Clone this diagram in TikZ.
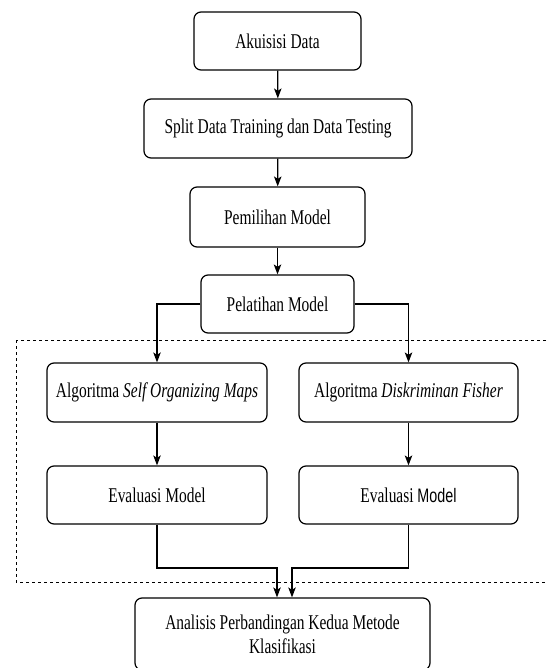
\documentclass[tikz,border=0pt]{standalone}
\usepackage{fontspec}
\usepackage{graphicx}
\setmainfont{Liberation Serif}
\newfontfamily\labelsans{Liberation Sans}
\usetikzlibrary{arrows.meta,calc}
% narrow setting of the box labels
\newcommand{\narrow}[1]{\scalebox{0.735}[1]{#1}}
\tikzset{
  box/.style={draw=black, line width=1.2pt, rounded corners=7pt, inner sep=0pt,
              align=center, font=\fontsize{21}{24}\selectfont},
  flow/.style={draw=black, line width=1.2pt,
               -{Stealth[length=10pt,width=7.5pt,inset=2.5pt]}},
  region/.style={draw=black, line width=1pt, dash pattern=on 3pt off 3pt},
}
\begin{document}
\begin{tikzpicture}[x=1pt,y=-1pt]
\clip (0,0) rectangle (546,668);
\fill[white] (0,0) rectangle (546,668);

% dashed frame round the two classifiers
\draw[region] (16,340) rectangle (570,582);

% process steps
\node[box, minimum width=167pt, minimum height=58pt] (ak) at (277.5,41) {\narrow{Akuisisi Data}};
\node[box, minimum width=268pt, minimum height=59pt] (sp) at (278,128.5) {\narrow{Split Data Training dan Data Testing}};
\node[box, minimum width=175pt, minimum height=60pt] (pm) at (277.5,217) {\narrow{Pemilihan Model}};
\node[box, minimum width=153pt, minimum height=58pt] (pl) at (277.5,304) {\narrow{Pelatihan Model}};

\node[box, minimum width=220pt, minimum height=59pt] (som) at (157,392.5) {\narrow{Algoritma \textit{Self Organizing Maps}}};
\node[box, minimum width=219pt, minimum height=59pt] (df) at (408.5,392.5) {\narrow{Algoritma \textit{Diskriminan Fisher}}};

\node[box, minimum width=220pt, minimum height=58pt] (ev1) at (157,495) {\narrow{Evaluasi Model}};
\node[box, minimum width=219pt, minimum height=58pt] (ev2) at (408.5,495) {\narrow{Evaluasi {\labelsans\fontsize{19.5}{24}\selectfont Model}}};

\node[box, minimum width=295pt, minimum height=72pt] (an) at (282.5,634) {\narrow{Analisis Perbandingan Kedua Metode}\\\narrow{Klasifikasi}};

% connectors
\draw[flow] (ak) -- (sp);
\draw[flow] (sp) -- (pm);
\draw[flow] (pm) -- (pl);
\draw[flow] (pl.west) -| (som.north);
\draw[flow] (pl.east) -| (df.north);
\draw[flow] (som) -- (ev1);
\draw[flow] (df) -- (ev2);

\coordinate (jl) at (277,568);
\coordinate (jr) at (292,568);
\draw[flow] (ev1.south) |- (jl) -- (jl |- an.north);
\draw[flow] (ev2.south) |- (jr) -- (jr |- an.north);
\end{tikzpicture}
\end{document}
